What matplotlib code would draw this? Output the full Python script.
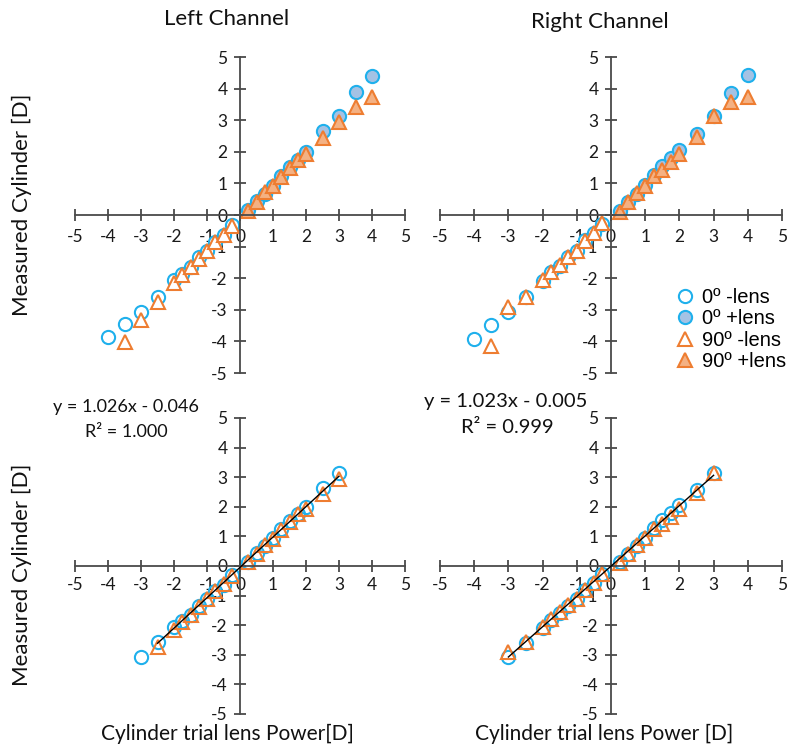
import matplotlib
matplotlib.use("Agg")
import matplotlib.pyplot as plt
from matplotlib.lines import Line2D
import numpy as np

# Trial lens powers (D)
x_neg = [-4, -3.5, -3, -2.5, -2, -1.75, -1.5, -1.25, -1, -0.75, -0.5, -0.25]
x_pos = [0.25, 0.5, 0.75, 1, 1.25, 1.5, 1.75, 2, 2.5, 3, 3.5, 4]

# Left channel measured cylinder (D)
left_0_neg = [-3.85, -3.46, -3.07, -2.58, -2.06, -1.87, -1.66, -1.34, -1.13, -0.86, -0.63, -0.31]
left_0_pos = [0.15, 0.45, 0.66, 0.93, 1.24, 1.53, 1.74, 2.00, 2.65, 3.14, 3.90, 4.41]
left_90_neg = [None, -4.03, -3.32, -2.74, -2.16, -1.90, -1.66, -1.39, -1.13, -0.84, -0.62, -0.34]
left_90_pos = [0.12, 0.40, 0.72, 0.91, 1.21, 1.48, 1.74, 1.93, 2.44, 2.95, 3.43, 3.72]

# Right channel measured cylinder (D)
right_0_neg = [-3.92, -3.47, -3.08, -2.61, -2.08, -1.81, -1.60, -1.34, -1.13, -0.80, -0.58, -0.28]
right_0_pos = [0.14, 0.42, 0.66, 0.95, 1.27, 1.56, 1.79, 2.07, 2.56, 3.14, 3.85, 4.43]
right_90_neg = [None, -4.14, -2.92, -2.58, -2.06, -1.79, -1.57, -1.32, -1.13, -0.81, -0.58, -0.26]
right_90_pos = [0.10, 0.40, 0.70, 0.93, 1.24, 1.42, 1.67, 1.93, 2.46, 3.14, 3.57, 3.74]

# Linear fits shown on the pooled panels
fit_left = (1.026, -0.046, 1.000)
fit_right = (1.023, -0.005, 0.999)
# Lens range pooled in the lower panels
pool_left_0 = (-3, 3)
pool_left_90 = (-2.5, 3)
pool_right_0 = (-3, 3)
pool_right_90 = (-3, 3)

ticks = [-5, -4, -3, -2, -1, 0, 1, 2, 3, 4, 5]

BLUE = "#1fb0ec"
BLUE_FILL = "#a4c2e4"
ORANGE = "#ee7d31"
ORANGE_FILL = "#f4b183"
AXIS = "#4a4a4a"
FONT = "Lato"

W, H = 788, 751
fig = plt.figure(figsize=(W / 100, H / 100), dpi=100)


def px_axes(x0, y0, x1, y1):
    return fig.add_axes([x0 / W, 1 - y1 / H, (x1 - x0) / W, (y1 - y0) / H])


def style(ax, xpad):
    ax.set_xlim(-5, 5)
    ax.set_ylim(-5, 5)
    for s in ("top", "right"):
        ax.spines[s].set_visible(False)
    for s in ("left", "bottom"):
        ax.spines[s].set_position(("data", 0))
        ax.spines[s].set_color(AXIS)
        ax.spines[s].set_linewidth(1.3)
    ax.set_xticks(ticks)
    ax.set_yticks(ticks)
    ax.set_xticklabels([str(t) for t in ticks])
    ax.set_yticklabels([str(t) for t in ticks])
    ax.tick_params(direction="inout", length=8, width=1.3, color=AXIS,
                   labelsize=12.5, labelcolor="#1a1a1a")
    ax.tick_params(axis="x", pad=xpad)
    ax.tick_params(axis="y", pad=5)
    for lab in ax.get_xticklabels() + ax.get_yticklabels():
        lab.set_fontfamily(FONT)
    ax.patch.set_alpha(0)


def pair(xs, ys):
    pts = [(a, b) for a, b in zip(xs, ys) if b is not None]
    return [p[0] for p in pts], [p[1] for p in pts]


MS = 9.5
MEW = 1.5


def top_panel(ax, y0n, y0p, y90n, y90p):
    style(ax, 6)
    kw = dict(linestyle="none", markersize=MS, markeredgewidth=MEW, clip_on=False)
    ax.plot(*pair(x_pos, y0p), marker="o", markerfacecolor=BLUE_FILL, markeredgecolor=BLUE, **kw)
    ax.plot(*pair(x_neg, y0n), marker="o", markerfacecolor="white", markeredgecolor=BLUE, **kw)
    ax.plot(*pair(x_pos, y90p), marker="^", markerfacecolor=ORANGE_FILL, markeredgecolor=ORANGE, **kw)
    ax.plot(*pair(x_neg, y90n), marker="^", markerfacecolor="white", markeredgecolor=ORANGE, **kw)


def bottom_panel(ax, y0n, y0p, y90n, y90p, r0, r90, fit):
    style(ax, 4)
    kw = dict(linestyle="none", markersize=MS, markeredgewidth=MEW, clip_on=False,
              markerfacecolor="none")
    xs, y0 = pair(x_neg + x_pos, y0n + y0p)
    sel = [(a, b) for a, b in zip(xs, y0) if r0[0] <= a <= r0[1]]
    ax.plot([p[0] for p in sel], [p[1] for p in sel], marker="o", markeredgecolor=BLUE, **kw)
    xs, y9 = pair(x_neg + x_pos, y90n + y90p)
    sel = [(a, b) for a, b in zip(xs, y9) if r90[0] <= a <= r90[1]]
    ax.plot([p[0] for p in sel], [p[1] for p in sel], marker="^", markeredgecolor=ORANGE, **kw)
    lo = max(r0[0], r90[0])
    hi = min(r0[1], r90[1])
    fx = np.array([lo, hi])
    ax.plot(fx, fit[0] * fx + fit[1], color="black", linewidth=1.0, zorder=5)


ax1 = px_axes(75, 57, 405, 373)
ax2 = px_axes(440, 57, 782, 373)
ax3 = px_axes(75, 418, 405, 714)
ax4 = px_axes(440, 418, 782, 714)

top_panel(ax1, left_0_neg, left_0_pos, left_90_neg, left_90_pos)
top_panel(ax2, right_0_neg, right_0_pos, right_90_neg, right_90_pos)
bottom_panel(ax3, left_0_neg, left_0_pos, left_90_neg, left_90_pos,
             pool_left_0, pool_left_90, fit_left)
bottom_panel(ax4, right_0_neg, right_0_pos, right_90_neg, right_90_pos,
             pool_right_0, pool_right_90, fit_right)

# Titles and axis labels
tk = dict(fontfamily=FONT, color="#111111", ha="center", va="center")
fig.text(227 / W, 1 - 19 / H, "Left Channel", fontsize=16, **tk)
fig.text(600 / W, 1 - 22 / H, "Right Channel", fontsize=16, **tk)
fig.text(22 / W, 1 - 205 / H, "Measured Cylinder [D]", rotation=90, fontsize=16, **tk)
fig.text(22 / W, 1 - 575 / H, "Measured Cylinder [D]", rotation=90, fontsize=16, **tk)
fig.text(227 / W, 1 - 734 / H, "Cylinder trial lens Power[D]", fontsize=15, **tk)
fig.text(604 / W, 1 - 734 / H, "Cylinder trial lens Power [D]", fontsize=15, **tk)

# Fit equations
fig.text(126 / W, 1 - 407 / H, f"y = {fit_left[0]:.3f}x - {abs(fit_left[1]):.3f}",
         fontsize=13, **tk)
fig.text(126 / W, 1 - 432 / H, f"R² = {fit_left[2]:.3f}", fontsize=13, **tk)
fig.text(506 / W, 1 - 402 / H, f"y = {fit_right[0]:.3f}x - {abs(fit_right[1]):.3f}",
         fontsize=14.5, **tk)
fig.text(507 / W, 1 - 428 / H, f"R² = {fit_right[2]:.3f}", fontsize=14.5, **tk)

# Legend
handles = [
    Line2D([], [], linestyle="none", marker="o", markersize=MS, markeredgewidth=MEW,
           markerfacecolor="white", markeredgecolor=BLUE),
    Line2D([], [], linestyle="none", marker="o", markersize=MS, markeredgewidth=MEW,
           markerfacecolor=BLUE_FILL, markeredgecolor=BLUE),
    Line2D([], [], linestyle="none", marker="^", markersize=MS, markeredgewidth=MEW,
           markerfacecolor="white", markeredgecolor=ORANGE),
    Line2D([], [], linestyle="none", marker="^", markersize=MS, markeredgewidth=MEW,
           markerfacecolor=ORANGE_FILL, markeredgecolor=ORANGE),
]
labels = ["0º -lens", "0º +lens", "90º -lens", "90º +lens"]
fig.legend(handles, labels, loc="upper left", bbox_to_anchor=(675 / W, 1 - 288 / H),
           frameon=False, prop=dict(family="Liberation Sans", size=14.5),
           handlelength=1.0, handletextpad=0.35, labelspacing=0.12, borderpad=0,
           borderaxespad=0)

fig.savefig("out.png", dpi=100, facecolor="white")
